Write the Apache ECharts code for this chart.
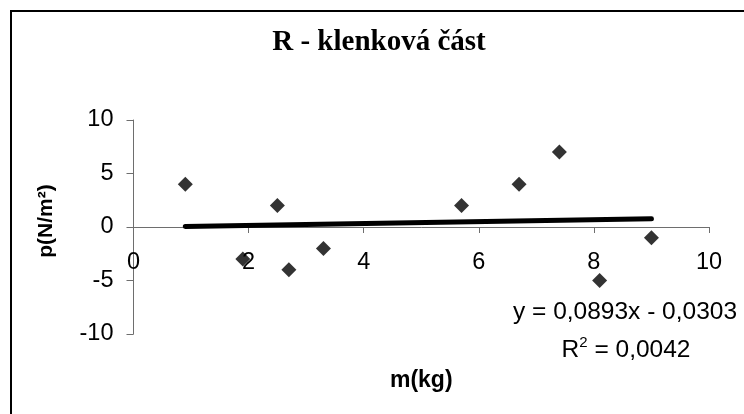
<!DOCTYPE html>
<html>
<head>
<meta charset="utf-8">
<script src="https://cdn.jsdelivr.net/npm/echarts@6/dist/echarts.min.js"></script>
<style>
  html, body { margin: 0; padding: 0; background: #ffffff; }
  #chart { width: 744px; height: 414px; }
</style>
</head>
<body>
<div id="chart"></div>
<script>
// Measured mass (kg) and pressure (N/m²), knee section
const massKg   = [0.9, 1.9, 2.5, 2.7, 3.3, 5.7, 6.7, 7.4, 8.1, 9.0];
const pressure = [4, -3, 2, -4, -2, 2, 4, 7, -5, -1];

// Linear trend line as stated in the equation label
const trendSlope = 0.0893;
const trendIntercept = -0.0303;
const trendR2 = '0,0042';

const titleText = 'R - klenková část';
const xAxisTitle = 'm(kg)';
const yAxisTitle = 'p(N/m²)';

const points = massKg.map((m, i) => [m, pressure[i]]);
const xLo = Math.min(...massKg);
const xHi = Math.max(...massKg);
const trendLine = [xLo, xHi].map(x => [x, trendSlope * x + trendIntercept]);

const fmt = v => Math.abs(v).toFixed(4).replace('.', ',');
const eqLine = 'y = ' + fmt(trendSlope) + 'x ' + (trendIntercept < 0 ? '- ' : '+ ') + fmt(trendIntercept);

const SANS = '"Liberation Sans", Arial, sans-serif';
const SERIF = '"Liberation Serif", "Times New Roman", serif';
const AXIS_GREY = '#6e6e6e';

// plot box
const GRID_TOP = 120, GRID_BOTTOM = 80, CHART_H = 414;
const plotH = CHART_H - GRID_TOP - GRID_BOTTOM;
const Y_MIN = -10, Y_MAX = 10;
// shift the x axis (line, ticks, labels, name) up to the y = 0 level
const xAxisOffset = -plotH * (0 - Y_MIN) / (Y_MAX - Y_MIN);

const chart = echarts.init(document.getElementById('chart'), null, { renderer: 'canvas' });

chart.setOption({
  animation: false,
  backgroundColor: '#ffffff',
  grid: { left: 133.5, right: 35, top: GRID_TOP, bottom: GRID_BOTTOM, containLabel: false, outerBoundsMode: 'none' },
  xAxis: {
    type: 'value',
    position: 'bottom',
    offset: xAxisOffset,
    min: 0, max: 10, interval: 2,
    name: xAxisTitle,
    nameLocation: 'middle',
    nameGap: 142,
    nameTextStyle: { fontFamily: SANS, fontWeight: 'bold', fontSize: 23, color: '#000' },
    axisLine: { show: true, onZero: false, lineStyle: { color: AXIS_GREY, width: 1 } },
    axisTick: { show: true, inside: false, length: 6, lineStyle: { color: AXIS_GREY } },
    axisLabel: { fontFamily: SANS, fontSize: 23.5, color: '#000', margin: 24 },
    splitLine: { show: false }
  },
  yAxis: {
    type: 'value',
    min: Y_MIN, max: Y_MAX, interval: 5,
    name: yAxisTitle,
    nameLocation: 'middle',
    nameGap: 77,
    nameRotate: 90,
    nameTextStyle: { fontFamily: SANS, fontWeight: 'bold', fontSize: 21, color: '#000', padding: [0, 0, 0, 12] },
    axisLine: { show: true, onZero: false, lineStyle: { color: AXIS_GREY, width: 1 } },
    axisTick: { show: true, inside: false, length: 7, lineStyle: { color: AXIS_GREY } },
    axisLabel: { fontFamily: SANS, fontSize: 23.5, color: '#000', margin: 20 },
    splitLine: { show: false }
  },
  series: [
    {
      name: 'trend',
      type: 'line',
      data: trendLine,
      symbol: 'none',
      lineStyle: { color: '#000', width: 5, cap: 'round' },
      z: 2
    },
    {
      name: 'p',
      type: 'scatter',
      data: points,
      symbol: 'diamond',
      symbolSize: 15,
      itemStyle: { color: '#000' },
      z: 3
    }
  ],
  graphic: [
    {
      type: 'rect',
      shape: { x: 11, y: 11, width: 800, height: 500 },
      style: { fill: 'none', stroke: '#000', lineWidth: 2 },
      silent: true
    },
    {
      type: 'text',
      x: 379, y: 43,
      style: {
        text: titleText,
        font: 'bold 29px ' + SERIF,
        fill: '#000',
        textAlign: 'center',
        textVerticalAlign: 'middle'
      }
    },
    {
      type: 'text',
      x: 625, y: 312,
      style: {
        text: eqLine,
        font: '24.5px ' + SANS,
        fill: '#000',
        textAlign: 'center',
        textVerticalAlign: 'middle'
      }
    },
    {
      type: 'text',
      x: 626, y: 349,
      style: {
        text: '{b|R}{s|2}{b| = ' + trendR2 + '}',
        textAlign: 'center',
        textVerticalAlign: 'middle',
        rich: {
          b: { font: '24.5px ' + SANS, fill: '#000', lineHeight: 28, verticalAlign: 'bottom' },
          s: { font: '15px ' + SANS, fill: '#000', lineHeight: 28, verticalAlign: 'top' }
        }
      }
    }
  ]
});
</script>
</body>
</html>
